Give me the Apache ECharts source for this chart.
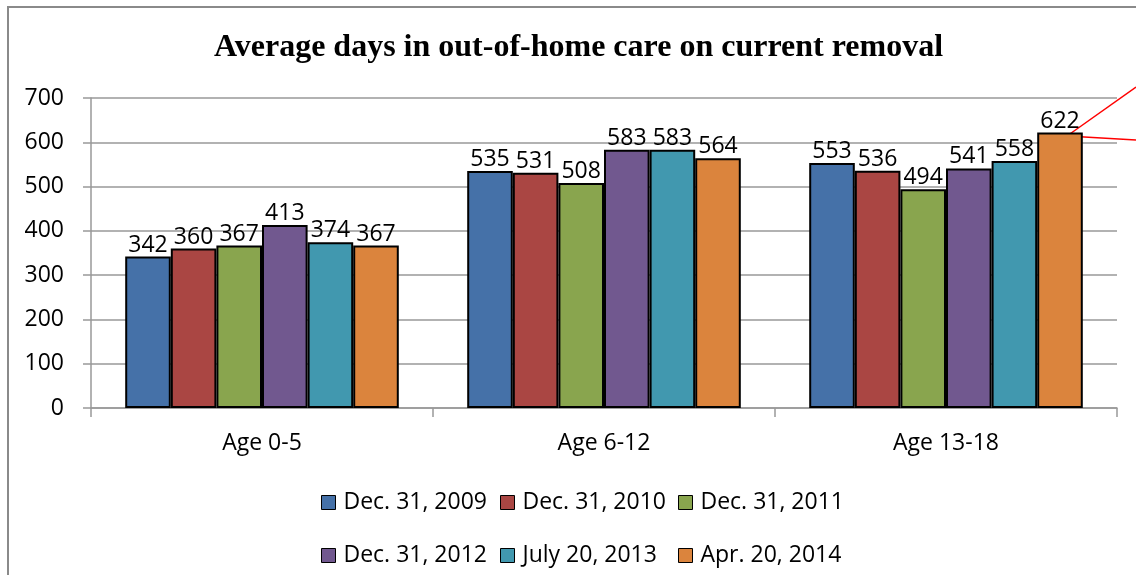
<!DOCTYPE html>
<html>
<head>
<meta charset="utf-8">
<script src="https://cdn.jsdelivr.net/npm/echarts@6/dist/echarts.min.js"></script>
<style>
	html, body { margin: 0; padding: 0; background: #fff; }
	#main { width: 1136px; height: 575px; }
</style>
</head>
<body>
<div id="main"></div>
<script>
const ageGroups = ['Age 0-5', 'Age 6-12', 'Age 13-18'];
const dates = ['Dec. 31, 2009', 'Dec. 31, 2010', 'Dec. 31, 2011', 'Dec. 31, 2012', 'July 20, 2013', 'Apr. 20, 2014'];
const dec2009 = [342, 535, 553];
const dec2010 = [360, 531, 536];
const dec2011 = [367, 508, 494];
const dec2012 = [413, 583, 541];
const jul2013 = [374, 583, 558];
const apr2014 = [367, 564, 622];
const seriesValues = [dec2009, dec2010, dec2011, dec2012, jul2013, apr2014];
const colors = ['#4571A8', '#AA4643', '#89A54E', '#71588F', '#4198AF', '#DB843D'];

const myChart = echarts.init(document.getElementById('main'), null, { renderer: 'canvas' });
const font = '"Open Sans", "Liberation Sans", sans-serif';

const series = seriesValues.map(function (values, i) {
	return {
		name: dates[i],
		type: 'bar',
		data: values,
		barGap: 0,
		barCategoryGap: '20%',
		itemStyle: { color: colors[i], borderColor: '#000', borderWidth: 2 },
		label: {
			show: true,
			position: 'top',
			distance: 0,
			color: '#000',
			fontFamily: font,
			fontSize: 23
		}
	};
});

// one legend per item so the two rows line up like the original
const legendLeft = [321, 500, 678];
const legendTop = [491, 544];
const legends = dates.map(function (name, i) {
	return {
		left: legendLeft[i % 3],
		top: legendTop[Math.floor(i / 3)],
		padding: 0,
		icon: 'rect',
		itemWidth: 14,
		itemHeight: 14,
		itemStyle: { borderColor: '#000', borderWidth: 1 },
		textStyle: { fontFamily: font, fontSize: 23, color: '#000', padding: [0, 0, 0, 3] },
		data: [name]
	};
});

const option = {
	animation: false,
	color: colors,
	title: {
		text: 'Average days in out-of-home care on current removal',
		left: 214,
		top: 32,
		padding: 0,
		textStyle: {
			fontFamily: '"Liberation Serif", "Times New Roman", serif',
			fontWeight: 'bold',
			fontSize: 32,
			color: '#000'
		}
	},
	legend: legends,
	grid: { left: 91, right: 19, top: 98, bottom: 167, containLabel: false },
	xAxis: {
		type: 'category',
		data: ageGroups,
		axisLine: { lineStyle: { color: '#999', width: 1.5 } },
		axisTick: { show: true, length: 9, lineStyle: { color: '#999', width: 1.5 } },
		axisLabel: { margin: 24, color: '#000', fontFamily: font, fontSize: 23 }
	},
	yAxis: {
		type: 'value',
		min: 0,
		max: 700,
		interval: 100,
		axisLine: { show: true, lineStyle: { color: '#999', width: 1.5 } },
		axisTick: { show: true, length: 8, lineStyle: { color: '#999', width: 1.5 } },
		axisLabel: { margin: 27, color: '#000', fontFamily: font, fontSize: 23 },
		splitLine: { lineStyle: { color: '#999', width: 1.5 } }
	},
	graphic: [
		{
			type: 'rect',
			shape: { x: 8, y: 7, width: 1200, height: 700 },
			style: { fill: 'none', stroke: '#8a8a8a', lineWidth: 2 },
			silent: true
		},
		{
			type: 'line',
			shape: { x1: 1067, y1: 136, x2: 1136, y2: 87 },
			style: { stroke: '#ff0000', lineWidth: 1.5 },
			silent: true
		},
		{
			type: 'line',
			shape: { x1: 1067, y1: 136, x2: 1136, y2: 140 },
			style: { stroke: '#ff0000', lineWidth: 1.5 },
			silent: true
		}
	],
	series: series
};

myChart.setOption(option);
</script>
</body>
</html>
